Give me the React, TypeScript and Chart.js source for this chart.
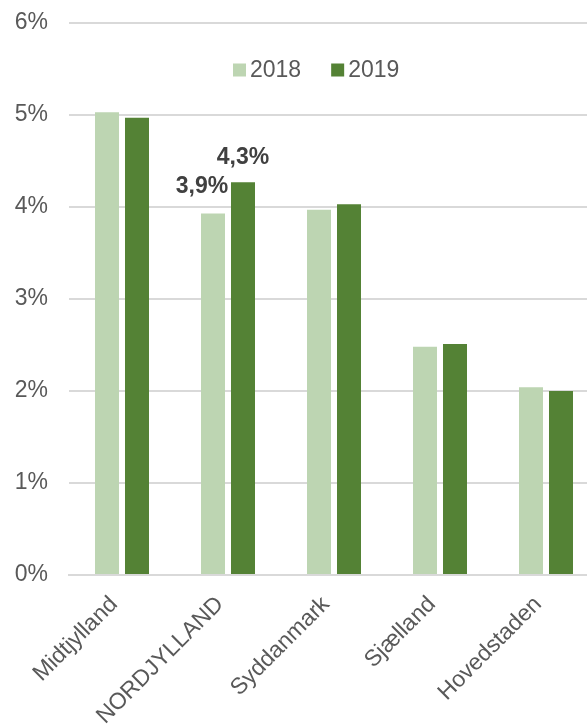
import React, { useEffect, useRef } from "react";
import { Chart, registerables } from "chart.js";

Chart.register(...registerables);

const categories = ["Midtjylland", "NORDJYLLAND", "Syddanmark", "Sjælland", "Hovedstaden"];
const series2018 = [5.03, 3.93, 3.97, 2.48, 2.04];
const series2019 = [4.97, 4.27, 4.03, 2.51, 2.0];
const labels2018 = ["", "3,9%", "", "", ""];
const labels2019 = ["", "4,3%", "", "", ""];
const seriesNames = ["2018", "2019"];
const yTicks = [0, 1, 2, 3, 4, 5, 6];

const COLOR_2018 = "#BDD5B2";
const COLOR_2019 = "#548235";
const FONT = "'Liberation Sans', Arial, sans-serif";

const legendPlugin = {
  id: "customLegend",
  afterDraw(chart: any) {
    const { ctx, chartArea } = chart;
    ctx.save();
    ctx.font = `23px ${FONT}`;
    ctx.textBaseline = "middle";
    ctx.textAlign = "left";
    let x = chartArea.left + 164;
    const y = chartArea.top + 47;
    chart.data.datasets.forEach((ds: any) => {
      ctx.fillStyle = ds.backgroundColor;
      ctx.fillRect(x, y - 6.5, 13, 13);
      ctx.fillStyle = "#595959";
      ctx.fillText(ds.label, x + 17, y + 1);
      x += 17 + ctx.measureText(ds.label).width + 30;
    });
    ctx.restore();
  },
};

const dataLabelPlugin = {
  id: "dataLabels",
  afterDatasetsDraw(chart: any) {
    const { ctx } = chart;
    const sets = [
      { labels: labels2018, dx: -11, dy: -27 },
      { labels: labels2019, dx: 0, dy: -25 },
    ];
    ctx.save();
    ctx.font = `bold 23px ${FONT}`;
    ctx.fillStyle = "#404040";
    ctx.textAlign = "center";
    ctx.textBaseline = "middle";
    sets.forEach((s, di) => {
      const meta = chart.getDatasetMeta(di);
      meta.data.forEach((bar: any, i: number) => {
        const t = s.labels[i];
        if (!t) return;
        ctx.fillText(t, bar.x + s.dx, bar.y + s.dy);
      });
    });
    ctx.restore();
  },
};

export default function App() {
  const ref = useRef<HTMLCanvasElement>(null);
  useEffect(() => {
    document.body.style.margin = "0";
    const chart = new Chart(ref.current!, {
      type: "bar",
      data: {
        labels: categories,
        datasets: [
          { label: seriesNames[0], data: series2018, backgroundColor: COLOR_2018 },
          { label: seriesNames[1], data: series2019, backgroundColor: COLOR_2019 },
        ],
      },
      options: {
        responsive: false,
        animation: false,
        devicePixelRatio: 1,
        layout: { padding: { top: 23, left: 0, right: 1, bottom: 0 } },
        datasets: { bar: { categoryPercentage: 0.566, barPercentage: 0.8 } },
        plugins: { legend: { display: false }, tooltip: { enabled: false } },
        scales: {
          x: {
            grid: { display: false, drawTicks: false },
            border: { display: true, color: "#D9D9D9", width: 2 },
            ticks: {
              color: "#595959",
              font: { family: FONT, size: 23 },
              minRotation: 45,
              maxRotation: 45,
              padding: 16,
              labelOffset: -8,
            },
            afterFit: (s: any) => {
              s.height = 152;
            },
          },
          y: {
            min: 0,
            max: 6,
            afterBuildTicks: (s: any) => {
              s.ticks = yTicks.map((v) => ({ value: v }));
            },
            grid: { color: "#D9D9D9", lineWidth: 2, drawTicks: false },
            border: { display: false },
            ticks: {
              color: "#595959",
              font: { family: FONT, size: 23 },
              padding: 21,
              callback: (v: any) => `${v}%`,
            },
            afterFit: (s: any) => {
              s.width = 69;
              s.paddingTop = 0;
              s.paddingBottom = 0;
            },
          },
        },
      },
      plugins: [dataLabelPlugin, legendPlugin],
    });
    return () => chart.destroy();
  }, []);
  return (
    <div style={{ width: 587, height: 727, overflow: "hidden", background: "#fff" }}>
      <canvas ref={ref} width={600} height={727} style={{ display: "block" }} />
    </div>
  );
}
